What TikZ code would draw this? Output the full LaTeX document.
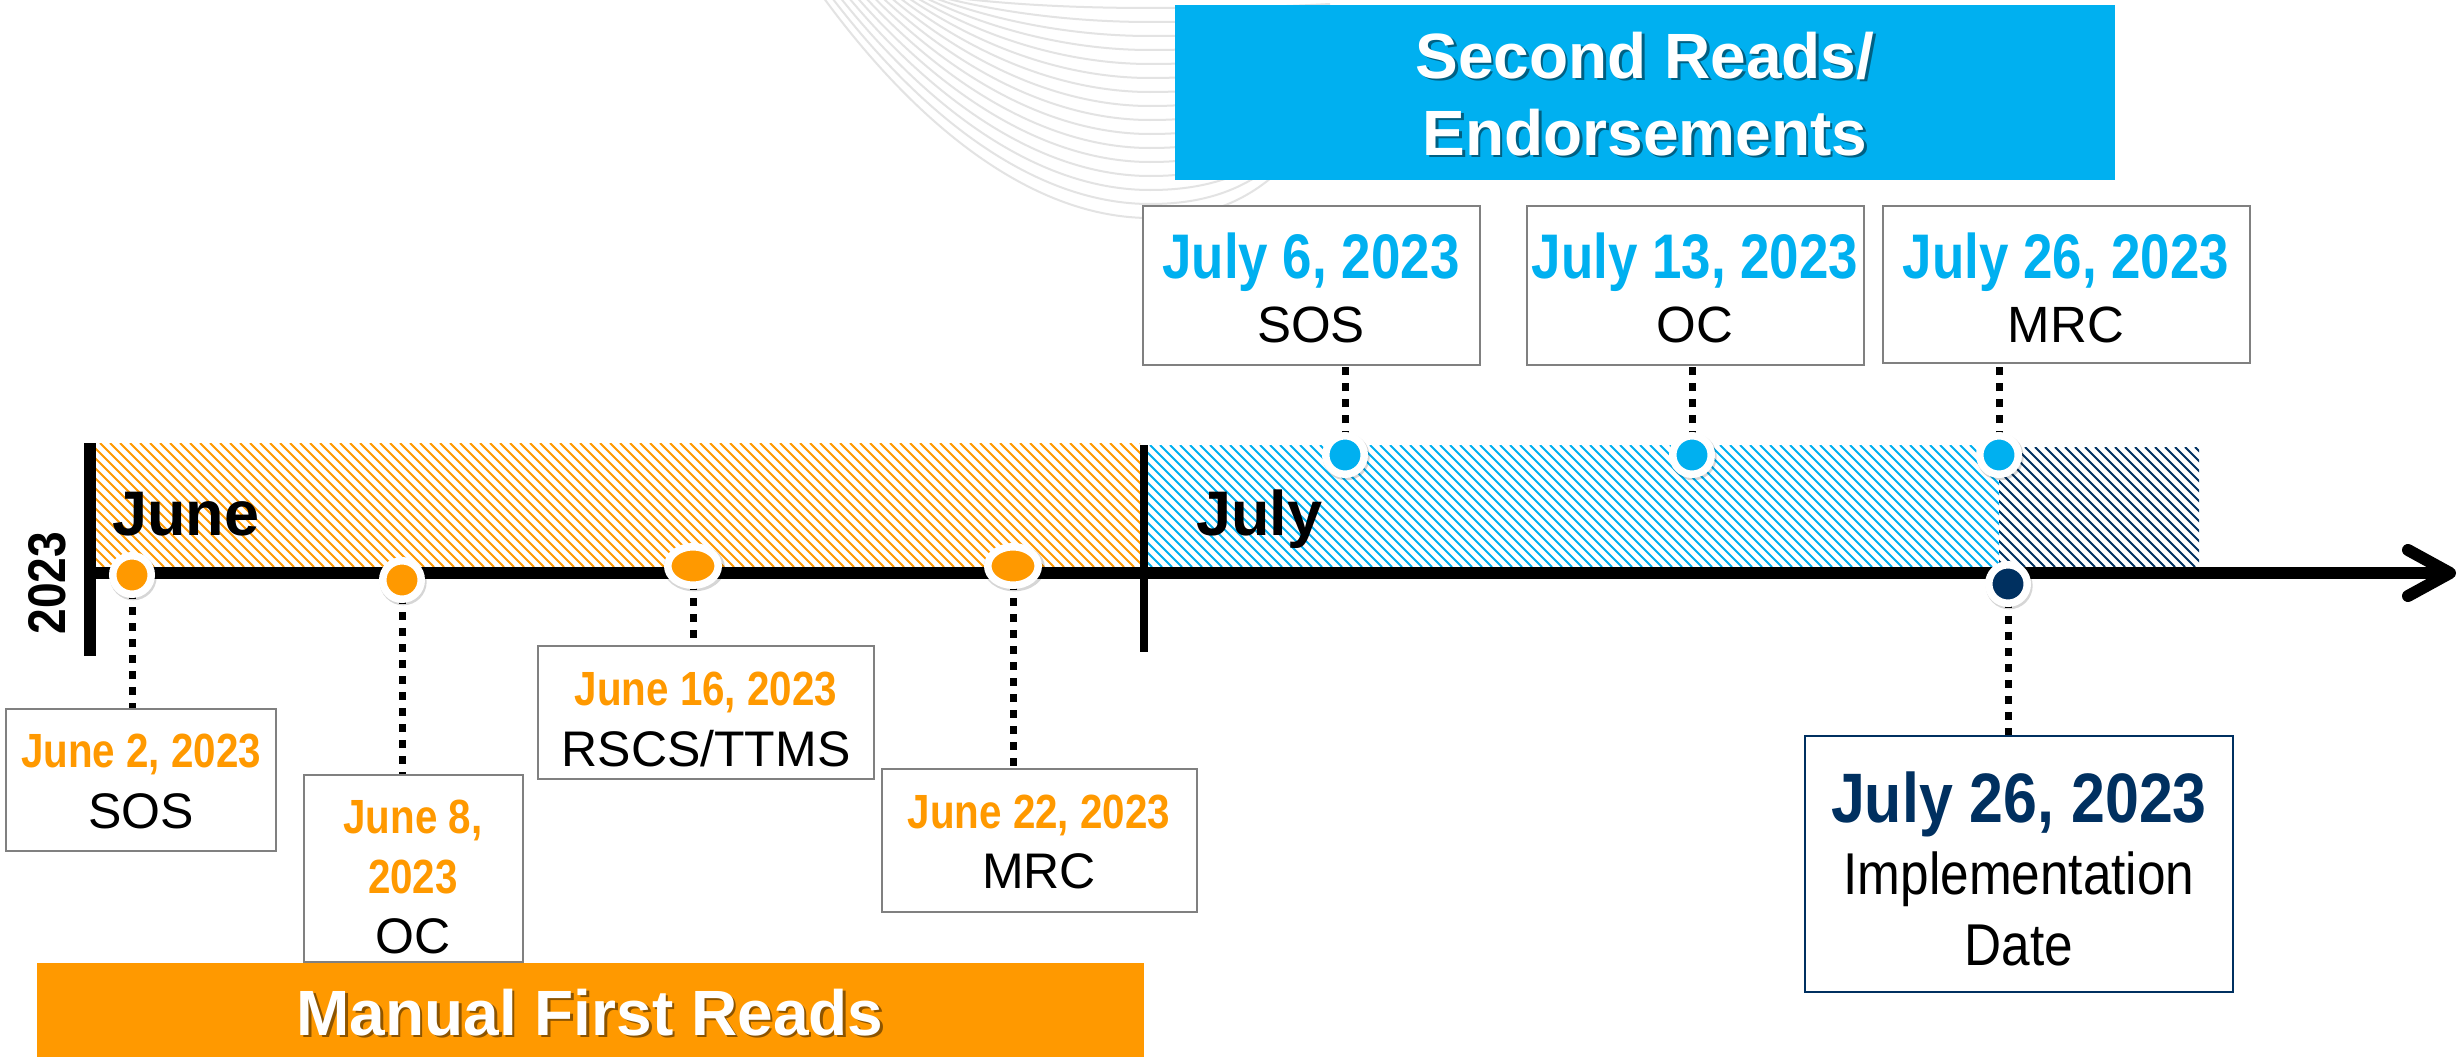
\documentclass[tikz,border=0pt]{standalone}
\usepackage{fontspec}
\setmainfont{Liberation Sans}
\newfontfamily\condf{Liberation Sans}[FakeStretch=0.84]
\newfontfamily\condg{Liberation Sans}[FakeStretch=0.87]
\usetikzlibrary{shapes.geometric,shadows}
\definecolor{cOr}{RGB}{255,153,0}
\definecolor{cBl}{RGB}{0,176,240}
\definecolor{cNv}{RGB}{0,48,96}
\definecolor{cGr}{RGB}{128,128,128}
\pgfdeclarelayer{back}
\pgfdeclarelayer{bg}
\pgfsetlayers{back,bg,main}
\begin{document}
\begin{tikzpicture}[x=1pt,y=-1pt,
  box/.style={rectangle, draw=cGr, line width=2.5pt, fill=white, inner sep=0pt},
  bandbox/.style={rectangle, inner sep=0pt},
  jdate/.style={anchor=base, inner sep=0pt, text=cOr, font=\condf\bfseries\fontsize{48}{48}\selectfont},
  ldate/.style={anchor=base, inner sep=0pt, text=cBl, font=\condf\bfseries\fontsize{63}{63}\selectfont},
  lab/.style={anchor=base, inner sep=0pt, font=\fontsize{50}{50}\selectfont},
  labj/.style={anchor=base, inner sep=0pt, font=\fontsize{51}{51}\selectfont},
  ttl/.style={anchor=base, inner sep=0pt, text=white, font=\bfseries\fontsize{64}{64}\selectfont},
  ttlshadow/.style={anchor=base, inner sep=0pt, text=black, opacity=0.45, font=\bfseries\fontsize{64}{64}\selectfont},
  month/.style={anchor=base west, inner sep=0pt, font=\bfseries\fontsize{63}{63}\selectfont},
  dotbase/.style={draw=white, line width=7.5pt, inner sep=0pt,
    drop shadow={shadow scale=1.22, shadow xshift=1pt, shadow yshift=-1.5pt, opacity=0.16, fill=black}},
  dotc/.style={dotbase, circle, minimum size=38.5pt},
  dote/.style={dotbase, ellipse, minimum width=50.5pt, minimum height=38.5pt},
  dotline/.style={line width=7pt, dash pattern=on 8pt off 8pt, black},
  bgline/.style={line width=2pt, black!11},
  hatch/.style={line width=1.9pt}
]
\useasboundingbox (0,0) rectangle (2463,1057);
\begin{pgfonlayer}{back}
\fill[white] (0,0) rectangle (2463,1057);
\foreach \i in {0,...,15}{
  \pgfmathsetmacro\dd{218-14*\i}
  \pgfmathsetmacro\xo{823+(218-\dd)*0.6}
  \draw[bgline] (\xo,-3) .. controls ({\xo+0.3*(1150-\xo)},{0.6*\dd}) and ({1150-0.35*(1150-\xo)},\dd) .. (1150,\dd) .. controls (1230,\dd) and (1280,{0.85*\dd}) .. (1330,{0.5*\dd});
}
\end{pgfonlayer}

% title bands
\node[bandbox, fill=cBl, minimum width=940pt, minimum height=175pt] (topband) at (1645,92.5) {};
\node[ttlshadow] (t1s) at (1647.5,80.5) {Second Reads/};
\node[ttl] (t1) at (1645,78) {Second Reads/};
\node[ttlshadow] (t2s) at (1647.5,157.5) {Endorsements};
\node[ttl] (t2) at (1645,155) {Endorsements};

\node[bandbox, fill=cOr, minimum width=1107pt, minimum height=97pt] (botband) at (590.5,1011.5) {};
\node[ttlshadow] (t3s) at (592.5,1037.5) {Manual First Reads};
\node[ttl] (t3) at (590,1035) {Manual First Reads};

% hatched month areas
\begin{scope}
\clip (96,443) rectangle (1140,567);
\foreach \i in {-130,-120,...,1140} \draw[hatch, cOr] (\i,443) -- ++(124,124);
\end{scope}
\begin{scope}
\clip (1148,445) rectangle (1999,567);
\foreach \i in {1020,1030,...,2000} \draw[hatch, cBl] (\i,445) -- ++(122,122);
\end{scope}
\begin{scope}
\clip (1999,447) rectangle (2199,567);
\foreach \i in {1875,1885,...,2200} \draw[hatch, cNv] (\i,447) -- ++(120,120);
\end{scope}

% axis
\coordinate (axL) at (84,573);
\coordinate (axR) at (2450,573);
\coordinate (ahT) at (2408,550);
\coordinate (ahB) at (2408,596);
\draw[line width=12pt] (axL) -- (axR);
\draw[line width=12pt, line cap=round, line join=round] (ahT) -- (axR) -- (ahB);
\coordinate (barLt) at (90,443);
\coordinate (barLb) at (90,656);
\draw[line width=12pt] (barLt) -- (barLb);
\coordinate (barMt) at (1144,445);
\coordinate (barMb) at (1144,652);
\draw[line width=8pt] (barMt) -- (barMb);

\node[month] (mJune) at (112,535) {June};
\node[month] (mJuly) at (1196,535) {July};
\node[rotate=90, inner sep=0pt, font=\condg\bfseries\fontsize{53}{53}\selectfont] (yr) at (47,583) {2023};

% June boxes
\node[box, minimum width=270pt, minimum height=142pt] (bJ2) at (141,780) {};
\node[jdate] (tJ2a) at (141,767) {June 2, 2023};
\node[lab] (tJ2b) at (141,828) {SOS};

\node[box, minimum width=219pt, minimum height=187pt] (bJ8) at (413.5,868.5) {};
\node[jdate] (tJ8a) at (413,833) {June 8,};
\node[jdate] (tJ8b) at (413,893) {2023};
\node[lab] (tJ8c) at (413,953) {OC};

\node[box, minimum width=336pt, minimum height=133pt] (bJ16) at (706,712.5) {};
\node[jdate] (tJ16a) at (706,705) {June 16, 2023};
\node[lab] (tJ16b) at (706,766) {RSCS/TTMS};

\node[box, minimum width=315pt, minimum height=143pt] (bJ22) at (1039.5,840.5) {};
\node[jdate] (tJ22a) at (1039,828) {June 22, 2023};
\node[lab] (tJ22b) at (1039,888) {MRC};

% July boxes
\node[box, minimum width=337pt, minimum height=159pt] (bL6) at (1311.5,285.5) {};
\node[ldate] (tL6a) at (1311,278) {July 6, 2023};
\node[labj] (tL6b) at (1311,342) {SOS};

\node[box, minimum width=337pt, minimum height=159pt] (bL13) at (1695.5,285.5) {};
\node[ldate] (tL13a) at (1695,278) {July 13, 2023};
\node[labj] (tL13b) at (1695,342) {OC};

\node[box, minimum width=367pt, minimum height=157pt] (bL26) at (2066.5,284.5) {};
\node[ldate] (tL26a) at (2066,278) {July 26, 2023};
\node[labj] (tL26b) at (2066,342) {MRC};

% implementation box
\node[box, draw=cNv, minimum width=428pt, minimum height=256pt] (bImp) at (2019,864) {};
\node[anchor=base, inner sep=0pt, text=cNv, font=\condg\bfseries\fontsize{70}{70}\selectfont] (tImpa) at (2019,822) {July 26, 2023};
\node[anchor=base, inner sep=0pt, font=\condg\fontsize{59}{59}\selectfont] (tImpb) at (2019,894) {Implementation};
\node[anchor=base, inner sep=0pt, font=\condg\fontsize{59}{59}\selectfont] (tImpc) at (2019,965) {Date};

% dots
\node[dotc, fill=cOr] (dJ2) at (132,575) {};
\node[dotc, fill=cOr] (dJ8) at (402,580) {};
\node[dote, fill=cOr] (dJ16) at (693,566) {};
\node[dote, fill=cOr] (dJ22) at (1013,566) {};
\node[dotc, fill=cBl] (dL6) at (1345,455) {};
\node[dotc, fill=cBl] (dL13) at (1692,455) {};
\node[dotc, fill=cBl] (dL26) at (1999,455) {};
\node[dotc, fill=cNv] (dImp) at (2008,584) {};

% connectors
\begin{pgfonlayer}{bg}
\draw[dotline] (dJ2.center) -- (dJ2.center |- bJ2.north);
\draw[dotline] (dJ8.center) -- (dJ8.center |- bJ8.north);
\draw[dotline] (dJ16.center) -- (dJ16.center |- bJ16.north);
\draw[dotline] (dJ22.center) -- (dJ22.center |- bJ22.north);
\draw[dotline] (dL6.center) -- (dL6.center |- bL6.south);
\draw[dotline] (dL13.center) -- (dL13.center |- bL13.south);
\draw[dotline] (dL26.center) -- (dL26.center |- bL26.south);
\draw[dotline] (dImp.center) -- (dImp.center |- bImp.north);
\end{pgfonlayer}
\end{tikzpicture}
\end{document}
